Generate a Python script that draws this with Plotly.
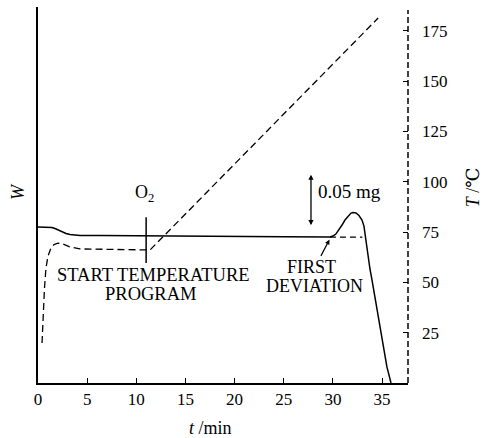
import plotly.graph_objects as go

# Mass change W (mg, relative to the isothermal baseline) against time t (min)
w_time = [0.0, 1.42, 1.73, 2.03, 2.44, 2.85, 3.26, 3.76, 4.27, 6.3, 10.0, 15.0,
          20.0, 25.0, 29.7,
          30.0, 30.3, 30.62, 30.93, 31.23, 31.54, 31.84, 32.04,
          32.35, 32.65, 32.96, 33.16, 33.26, 33.42, 33.57, 33.77, 33.98, 34.23,
          34.49, 34.74, 35.0, 35.25, 35.5, 35.71, 35.91]
w_mass = [0.0087, 0.0082, 0.0072, 0.0058, 0.0038, 0.0024, 0.0014, 0.0008, 0.0005,
          0.0004, 0.0003, 0.0, -0.0003, -0.0006, -0.001,
          0.0, 0.0019, 0.0058, 0.0106, 0.0154, 0.0192, 0.0221, 0.0226,
          0.0221, 0.0197, 0.0154, 0.0096, 0.0029, -0.0087, -0.0202, -0.0317,
          -0.0423, -0.0567, -0.0712, -0.0856, -0.100, -0.113, -0.126, -0.1337,
          -0.1413]

# Extrapolated baseline after the first deviation
base_time = [29.7, 33.0]
base_mass = [-0.001, -0.001]

# Sample temperature T (°C): warm-up, isothermal hold, then 5 °C/min programme
t_time = [0.41, 0.51, 0.66, 0.81, 1.02, 1.32, 1.63, 2.03, 2.54, 3.26, 4.27,
          11.4, 34.6]
t_temp = [19.9, 33.8, 47.2, 57.1, 63.1, 67.1, 68.8, 69.5, 69.1, 67.6, 66.6,
          66.1, 181.3]

x_ticks = [0, 5, 10, 15, 20, 25, 30, 35]
t_ticks = [25, 50, 75, 100, 125, 150, 175]

o2_time = 11.0            # oxygen admitted / temperature programme started
scale_bar = 0.05          # mg
scale_bar_base = 0.009    # lower end of the scale bar (mg)

X_RANGE = [0, 37.64]
W_RANGE = [-0.1413, 0.2202]
T_RANGE = [0, 186.8]

SERIF = "Liberation Serif, Times New Roman, DejaVu Serif, serif"
INK = "black"

fig = go.Figure()

fig.add_trace(go.Scatter(x=w_time, y=w_mass, mode="lines", yaxis="y",
                         line=dict(color=INK, width=1.5), showlegend=False))
fig.add_trace(go.Scatter(x=base_time, y=base_mass, mode="lines", yaxis="y",
                         line=dict(color=INK, width=1.3, dash="6px,4px"),
                         showlegend=False))
fig.add_trace(go.Scatter(x=t_time, y=t_temp, mode="lines", yaxis="y2",
                         line=dict(color=INK, width=1.3, dash="7px,4px"),
                         showlegend=False))

# O2 event marker
fig.add_shape(type="line", xref="x", yref="y", x0=o2_time, x1=o2_time,
              y0=-0.026, y1=0.018, line=dict(color=INK, width=1.5))

# Dashed right-hand temperature axis
fig.add_shape(type="line", xref="paper", yref="paper", x0=1, x1=1, y0=0, y1=0.992,
              line=dict(color=INK, width=1.5, dash="6px,3px"))


def label(x, y, text, size=18, **kw):
    return dict(x=x, y=y, xref="x", yref="y", text=text, showarrow=False,
                font=dict(size=size), **kw)


annotations = [
    label(o2_time - 0.2, 0.0413, "O<sub>2</sub>", size=18),
    label(11.8, -0.0375, "START TEMPERATURE", size=18.5),
    label(11.5, -0.0558, "PROGRAM", size=18.5),
    label(27.8, -0.0298, "FIRST", size=18),
    label(28.1, -0.0481, "DEVIATION", size=18),
    # arrow pointing at the first deviation
    dict(x=29.65, y=-0.0035, xref="x", yref="y", ax=28.7, ay=-0.0205,
         axref="x", ayref="y", text="", showarrow=True, arrowhead=2,
         arrowsize=0.8, arrowwidth=1.2, arrowcolor=INK),
    # 0.05 mg scale bar (double-headed)
    dict(x=27.77, y=scale_bar_base + scale_bar, xref="x", yref="y",
         ax=27.77, ay=scale_bar_base, axref="x", ayref="y", text="",
         showarrow=True, arrowhead=2, startarrowhead=2, arrowside="end+start",
         arrowsize=0.8, arrowwidth=1.3, arrowcolor=INK),
    label(28.25, scale_bar_base + scale_bar / 2 + 0.0085, "0.05 mg", size=19,
          xanchor="left"),
    # axis titles
    dict(x=-0.054, y=0.508, xref="paper", yref="paper", text="<i>W</i>",
         showarrow=False, textangle=-90, xanchor="center", yanchor="middle",
         font=dict(size=18)),
    dict(x=1.176, y=0.521, xref="paper", yref="paper", text="<i>T</i> /℃",
         showarrow=False, textangle=-90, xanchor="center", yanchor="middle",
         font=dict(size=18)),
    dict(x=0.465, y=-0.12, xref="paper", yref="paper", text="<i>t</i> /min",
         showarrow=False, xanchor="center", yanchor="middle", font=dict(size=18)),
]

fig.update_layout(
    width=488, height=438,
    margin=dict(l=38, r=80, t=7, b=55),
    paper_bgcolor="white", plot_bgcolor="white",
    font=dict(family=SERIF, color=INK, size=17),
    annotations=annotations,
    xaxis=dict(range=X_RANGE, tickvals=x_ticks, ticks="inside", ticklen=5,
               tickwidth=1.2, tickcolor=INK, showline=True, linecolor=INK,
               linewidth=1.5, showgrid=False, zeroline=False,
               tickfont=dict(size=17)),
    yaxis=dict(range=W_RANGE, showticklabels=False, ticks="", showline=True,
               linecolor=INK, linewidth=1.5, showgrid=False, zeroline=False),
    yaxis2=dict(range=T_RANGE, overlaying="y", side="right", tickvals=t_ticks,
                ticks="inside", ticklen=5, tickwidth=1.2, tickcolor=INK,
                ticklabelstandoff=13, showline=False, showgrid=False,
                zeroline=False, tickfont=dict(size=17)),
)

fig.write_html("out.html")
